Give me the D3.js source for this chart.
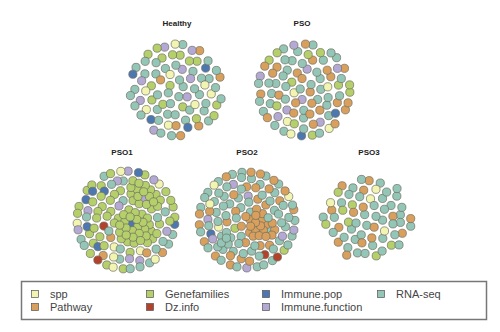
<!DOCTYPE html>
<html><head><meta charset="utf-8">
<script src="https://cdn.jsdelivr.net/npm/d3@7"></script>
<style>body{margin:0;background:#fff}svg{display:block}</style>
</head><body><svg id="c" width="500" height="332"></svg>
<script>
// ---- data ----
const categories = ["spp","Pathway","Genefamilies","Dz.info","Immune.pop","Immune.function","RNA-seq"];
const codes = ["s","p","g","d","i","f","r"];
const colors = ["#f2f4b2","#d99f5c","#b5cf6b","#b3422c","#4c77b1","#b4a9d5","#93c6b6"];
const panels = ["Healthy","PSO","PSO1","PSO2","PSO3"];
// each string is one connected group of nodes; "*" = star (first node is hub)
const healthyGroups = ["gr","rr","rs","gr","rf","rr","gg","rp","sr","rgr","ri","rf","fr","gs","rr","pg","rrs","ir","gr","fr","rp","sr","gg","rf","ir","rr","grs","pr","fg","rr","sp","gr","rs","ri","fr","rg","pf","gr"];
const psoGroups = ["fp","rr","pr","gr","sr","rp","fr","pp","rg","rrp","fp","gr","rr","pr","ir","rs","pg","rr","fp","rpr","gr","pp","rf","rr","sg","pr","rg","pp","fr","ri","prr","gg","rp","fr","rs","pp","rr","gp","rp","sp","pf","rg"];
const pso1Groups = ["*igggggggggggggggggggggggggggggg","*fgggggggggggggggggg","gig","ggi","igg","gg","gig","ggg","gi","gg","ggg","rs","pr","sp","gr","rfr","ig","pd","rs","sf","rf","sr","gf","rr","rg","fr","gs","pdr","fr","gg","rg","sf","gr","rf","fs","gg","gig","rr"];
const pso2Groups = ["*rppppprpppppppppprpppp","*rrrrrrrr","rp","pr","rr","pr","rp","sr","pr","rr","rpr","pr","fr","rp","dr","pr","rr","rp","fp","rr","pr","rs","rp","rf","pr","rr","gp","rpr","pr","rf","rp","rr","if","pr","rp","rr","fr","rpr","pr","gr","rp","rs","pr","rd","rp","fr","pr","rr","sp","rp"];
const pso3Groups = ["rp","rr","sr","rp","*rprrr","rs","rr","pr","rg","rp","rr","*pgrsp","rr","pr","rrp","rgr","pr","gr","rp","pr","rg","rr","pr","rs","pg","rp","gr","rr"];
const panelGroups = [healthyGroups, psoGroups, pso1Groups, pso2Groups, pso3Groups];

// ---- layout ----
const layout = [
  {cx:176, cy:90, R:50, tx:177, ty:26},
  {cx:304, cy:90, R:50, tx:302, ty:26},
  {cx:126, cy:220, R:53, tx:122, ty:155},
  {cx:247, cy:220, R:52, tx:247, ty:155},
  {cx:369, cy:218, R:50, tx:369, ty:155}
];
const nodeR = 4.1;
const color = d3.scaleOrdinal().domain(codes).range(colors);
const svg = d3.select("#c");

function groupCollide(sameMin, otherMin) {
  let nodes;
  function force() {
    for (let i = 0; i < nodes.length; i++) {
      const a = nodes[i];
      for (let j = i + 1; j < nodes.length; j++) {
        const b = nodes[j];
        const min = a.group === b.group ? sameMin : otherMin;
        let dx = (b.x + b.vx) - (a.x + a.vx), dy = (b.y + b.vy) - (a.y + a.vy);
        const d = Math.hypot(dx, dy) || 1e-3;
        if (d < min) {
          const m = (min - d) / d * 0.5 * 0.6;
          dx *= m; dy *= m;
          b.vx += dx; b.vy += dy; a.vx -= dx; a.vy -= dy;
        }
      }
    }
  }
  force.initialize = n => { nodes = n; };
  return force;
}
function contain(rad) {
  let nodes;
  function force() {
    for (const n of nodes) {
      const nx = n.x + n.vx, ny = n.y + n.vy, d = Math.hypot(nx, ny);
      if (d > rad) { const k = rad / d; n.vx = nx * k - n.x; n.vy = ny * k - n.y; }
    }
  }
  force.initialize = n => { nodes = n; };
  return force;
}

panels.forEach((name, pi) => {
  const L = layout[pi];
  const nodes = [], links = [];
  panelGroups[pi].forEach((g, gi) => {
    const star = g[0] === "*";
    const s = star ? g.slice(1) : g;
    const ids = [];
    for (const ch of s) { ids.push(nodes.length); nodes.push({cat: ch, group: gi}); }
    for (let k = 1; k < ids.length; k++) {
      if (star) links.push({source: ids[0], target: ids[k], d: 0, s: 0.12});
      else links.push({source: ids[k-1], target: ids[k], d: 7.6, s: 1});
    }
  });
  const rad = L.R - nodeR;
  const sim = d3.forceSimulation(nodes)
    .alphaDecay(0.01)
    .force("link", d3.forceLink(links).distance(d => d.d).strength(d => d.s))
    .force("coll", groupCollide(7.6, 11))
    .force("x", d3.forceX(0).strength(0.015))
    .force("y", d3.forceY(0).strength(0.015))
    .force("contain", contain(rad))
    .stop();
  for (let t = 0; t < 700; t++) sim.tick();
  const sx = d3.scaleLinear().domain([-L.R, L.R]).range([L.cx - L.R, L.cx + L.R]);
  const sy = d3.scaleLinear().domain([-L.R, L.R]).range([L.cy - L.R, L.cy + L.R]);
  const g = svg.append("g");
  g.selectAll("circle").data(nodes).join("circle")
    .attr("cx", d => sx(d.x)).attr("cy", d => sy(d.y)).attr("r", nodeR)
    .attr("fill", d => color(d.cat)).attr("stroke", "#6f6f62").attr("stroke-width", 0.7);
  svg.append("text").attr("x", L.tx).attr("y", L.ty).attr("text-anchor", "middle")
    .attr("font-family", "Liberation Sans, Arial, sans-serif").attr("font-weight", "bold")
    .attr("font-size", 8).attr("fill", "#222").text(name);
});

// legend
const leg = svg.append("g");
leg.append("rect").attr("x", 21.5).attr("y", 281.5).attr("width", 465).attr("height", 38)
  .attr("fill", "#fff").attr("stroke", "#777").attr("stroke-width", 1.5);
const colX = [35, 150, 266, 381];
const order = ["s","p","g","d","i","f","r"];
order.forEach((c, k) => {
  const col = Math.floor(k / 2), row = k % 2;
  const x = colX[col], y = 294 + row * 13;
  leg.append("rect").attr("x", x - 3.5).attr("y", y - 3.5).attr("width", 7).attr("height", 7)
    .attr("fill", color(c)).attr("stroke", "#555").attr("stroke-width", 0.7);
  leg.append("text").attr("x", x + 15).attr("y", y + 4)
    .attr("font-family", "Liberation Sans, Arial, sans-serif").attr("font-size", 11)
    .attr("fill", "#444").text(categories[codes.indexOf(c)]);
});
</script></body></html>
